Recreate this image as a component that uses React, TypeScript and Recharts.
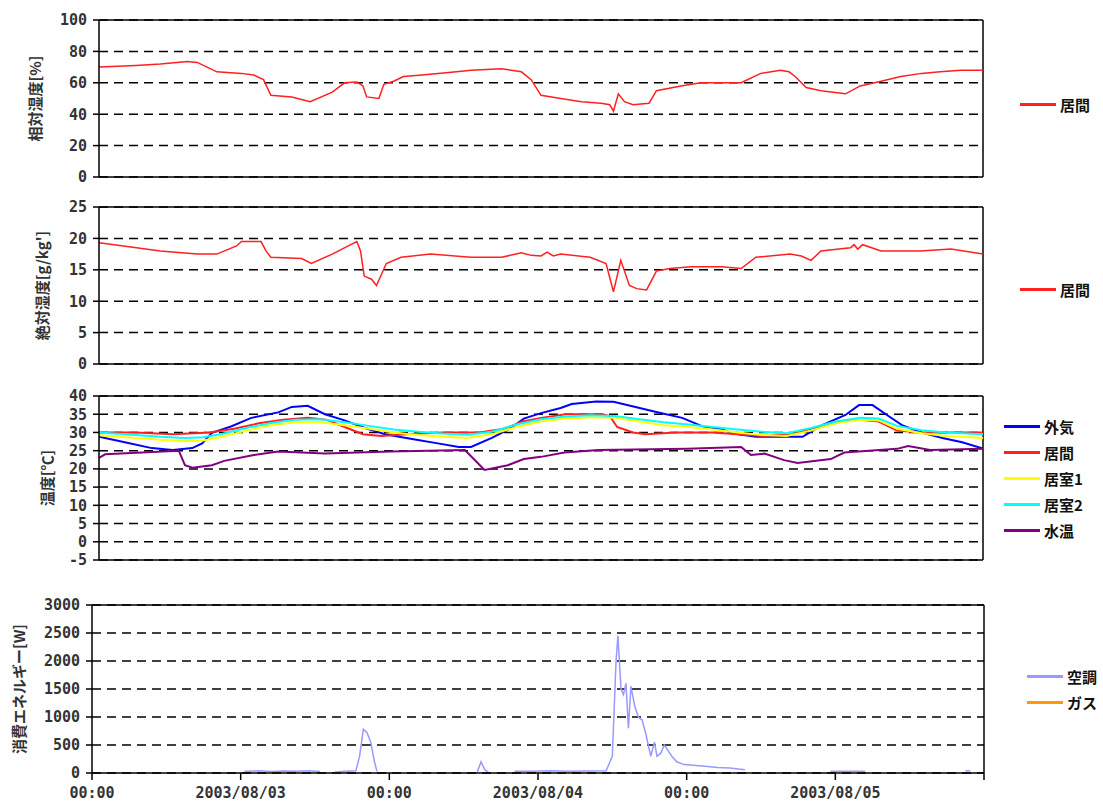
import React from "react"
import {
  LineChart,
  Line,
  XAxis,
  YAxis,
  CartesianGrid,
  ReferenceLine,
  Label,
} from "recharts"

// time in hours from the first 00:00, value
const rhLiving: Array<[number, number]> = [
  [0, 70], [3, 71], [5, 72], [7.2, 73.5], [8, 73], [8.8, 70], [9.6, 67], [11.6, 66],
  [12.6, 65], [13.4, 62], [14, 52], [15.7, 51], [17.2, 48], [19, 54], [20, 60], [21, 60.5],
  [21.5, 58], [21.8, 51], [22.8, 50], [23.2, 59], [24, 61], [24.8, 64], [26.3, 65],
  [28.5, 66.5], [30.3, 68], [32.8, 69], [34.4, 67], [35.2, 62], [36, 52], [37.6, 50],
  [39.3, 48], [40.9, 47], [41.6, 46], [41.9, 42], [42.3, 53], [42.8, 48], [43.5, 46],
  [44.8, 47], [45.4, 55], [47.4, 58], [49, 60], [52.3, 60], [53.9, 66], [55.5, 68],
  [56.2, 67], [56.7, 64], [57.6, 57], [58.8, 55], [60.8, 53], [62, 58], [63.7, 61],
  [65.3, 64], [67, 66], [68.5, 67], [70.2, 68], [72, 68],
]

const ahLiving: Array<[number, number]> = [
  [0, 19.3], [2, 18.8], [5, 18], [8, 17.5], [9.6, 17.5], [11.2, 18.8], [11.6, 19.5],
  [13.2, 19.5], [13.6, 18], [14, 17], [16.5, 16.8], [17.3, 16], [19, 17.5], [20.5, 19],
  [21, 19.5], [21.3, 18], [21.6, 14], [22.2, 13.5], [22.6, 12.5], [23.4, 16], [24.6, 17],
  [27, 17.5], [30.3, 17], [32.8, 17], [34.4, 17.7], [35.2, 17.3], [36, 17.2], [36.5, 17.8],
  [37, 17.2], [37.6, 17.5], [40, 17], [41.3, 16], [41.9, 11.5], [42.5, 16.5], [43.2, 12.5],
  [43.8, 12], [44.6, 11.8], [45.4, 14.8], [46.5, 15.2], [48.2, 15.5], [50.7, 15.5],
  [52.3, 15.2], [53.5, 17], [56.3, 17.5], [57.2, 17.2], [58, 16.5], [58.8, 18], [61.2, 18.5],
  [61.5, 19], [61.8, 18.3], [62.2, 19], [63.7, 18], [66.9, 18], [69.4, 18.3], [72, 17.5],
]

const tOutdoor: Array<[number, number]> = [
  [0, 28.8], [2.1, 27.3], [4.3, 25.7], [6, 25.2], [7.6, 25.7], [8.4, 27], [9.2, 29.9],
  [10.8, 31.7], [12.4, 34], [14.6, 35.5], [15.7, 37], [17, 37.3], [18.4, 35], [20, 33.3],
  [21.6, 31.3], [23.3, 29.5], [25.5, 28.2], [27.6, 27], [29.3, 26], [30.3, 26], [32, 28.5],
  [33.6, 31.3], [34.6, 33.8], [36, 35.3], [37.6, 36.7], [38.5, 37.8], [40.5, 38.5],
  [41.9, 38.4], [43.7, 37], [45.3, 35.7], [47.5, 34], [49.2, 31.6], [50.8, 30.8],
  [51.5, 29.8], [53.5, 28.8], [57.3, 28.8], [58.9, 32], [60.8, 34.8], [61.9, 37.5],
  [63, 37.5], [64.3, 34.5], [65.4, 32], [67, 30], [68.7, 28.5], [70.3, 27.3], [72, 25.6],
]

const tLiving: Array<[number, number]> = [
  [0, 30], [3, 30], [6, 29.5], [9, 30], [11, 31], [13, 32.5], [15, 33.5], [17, 34],
  [18.5, 33.5], [20, 31.5], [21.5, 29.5], [23, 29], [25, 29.5], [28, 30], [31, 30], [33, 31],
  [34.5, 33], [36, 34], [38, 35], [41, 35], [41.6, 34.5], [42.2, 31.5], [43.5, 30],
  [44.5, 29.5], [47, 30], [50, 30], [52, 29.5], [54, 29], [56.5, 29.5], [58.5, 31.5],
  [60.5, 33], [62, 33.5], [63.5, 33], [65, 30.5], [67, 30], [72, 30],
]

const tRoom1: Array<[number, number]> = [
  [0, 29.2], [3, 28.5], [5, 28], [7, 27.6], [8.5, 27.8], [10, 28.8], [12, 30.5], [14, 32],
  [16, 32.8], [18, 32.8], [20, 32], [22, 31], [24, 30], [26, 29.3], [28, 28.8], [30, 28.5],
  [32, 29.5], [34, 31.5], [36, 33], [38, 33.8], [40, 34.2], [42, 34], [44, 33], [46, 32],
  [48, 31.5], [50, 30.8], [52, 30], [54, 29.3], [56, 29], [58, 30.5], [60, 32.5], [62, 33.5],
  [63.5, 33.3], [65, 31], [67, 29.8], [69, 29], [72, 28.5],
]

const tRoom2: Array<[number, number]> = [
  [0, 30], [3, 29.3], [5, 28.8], [7, 28.5], [8.5, 28.7], [10, 29.6], [12, 31.2], [14, 32.6],
  [16, 33.5], [18, 33.6], [20, 32.8], [22, 31.8], [24, 30.8], [26, 30.2], [28, 29.7],
  [30, 29.4], [32, 30.2], [34, 32.2], [36, 33.6], [38, 34.4], [40, 34.7], [42, 34.5],
  [44, 33.6], [46, 32.8], [48, 32.2], [50, 31.5], [52, 30.8], [54, 30.2], [56, 29.8],
  [58, 31.2], [60, 33], [62, 34], [63.5, 33.8], [65, 31.8], [67, 30.6], [69, 30], [72, 29.5],
]

const tWater: Array<[number, number]> = [
  [0, 23], [0.5, 24], [6.5, 25], [7, 21], [7.6, 20.3], [9.2, 21], [10.2, 22.2], [12.4, 23.7],
  [14.6, 24.8], [18.4, 24.2], [23.8, 24.8], [29.8, 25.2], [31.4, 19.7], [33.3, 21],
  [34.6, 22.7], [36, 23.3], [37.9, 24.5], [40.7, 25.2], [47.9, 25.5], [52.3, 26], [53.1, 23.8],
  [54.2, 24.2], [55.8, 22.4], [56.9, 21.6], [59.6, 22.7], [60.7, 24.5], [65, 25.5],
  [65.9, 26.3], [67.7, 25.2], [72, 25.5],
]

// null = no record
const energyAC: Array<[number, number | null]> = [
  [12.3, 30], [13.5, 40], [14.5, 25], [15.5, 35], [16.5, 30], [17.5, 40], [18.4, 25], [18.9, null],
  [19.6, 20], [20.5, 30], [21.3, 40], [21.6, 300], [21.9, 780], [22.2, 720], [22.5, 550],
  [22.8, 200], [23.0, 30], [23.3, null],
  [31.1, 20], [31.4, 200], [31.7, 60], [32.0, 10], [32.3, null],
  [34.1, 30], [35.5, 30], [37, 40], [38.5, 30], [40, 35], [41.5, 40], [42.0, 300], [42.3, 2000],
  [42.45, 2450], [42.7, 1500], [42.9, 1400], [43.1, 1600], [43.3, 800], [43.5, 1550],
  [43.8, 1200], [44.1, 1000], [44.4, 950], [44.7, 700], [44.9, 500], [45.1, 300], [45.4, 550],
  [45.6, 300], [45.9, 350], [46.2, 500], [46.5, 400], [46.8, 300], [47.2, 200], [47.8, 150],
  [48.5, 140], [49.5, 120], [50.5, 100], [51.5, 90], [52.7, 60], [53, null],
  [59.6, 30], [61, 30], [62.4, 30], [62.8, null],
  [70.5, 40], [70.9, 40],
]

const xTicks = [0, 12, 24, 36, 48, 60, 72]
const xTickLabels = ["00:00", "2003/08/03", "00:00", "2003/08/04", "00:00", "2003/08/05", ""]
const rhTicks = [0, 20, 40, 60, 80, 100]
const ahTicks = [0, 5, 10, 15, 20, 25]
const tempTicks = [-5, 0, 5, 10, 15, 20, 25, 30, 35, 40]
const energyTicks = [0, 500, 1000, 1500, 2000, 2500, 3000]

const toPts = (arr: Array<[number, number | null]>) => arr.map(([t, v]) => ({ t, v }))

const tickFont = { fontSize: 15, fill: "#333", fontFamily: "DejaVu Sans Mono", fontWeight: 700 }
const jpFont = "'Noto Sans CJK JP', sans-serif"

interface SeriesDef {
  name: string
  color: string
  width: number
  points: Array<[number, number | null]>
}

interface PanelProps {
  top: number
  height: number
  marginTop: number
  marginBottom: number
  axisWidth: number
  marginRight: number
  yTicks: number[]
  title: string
  titleDx: number
  series: SeriesDef[]
  showX?: boolean
}

function Panel({ top, height, marginTop, marginBottom, axisWidth, marginRight, yTicks, title, titleDx, series, showX }: PanelProps) {
  const yMin = yTicks[0]
  const yMax = yTicks[yTicks.length - 1]
  return (
    <div style={{ position: "absolute", left: 0, top }}>
      <LineChart width={1103} height={height} margin={{ top: marginTop, right: marginRight, left: 0, bottom: marginBottom }}>
        <CartesianGrid vertical={false} stroke="#000" strokeWidth={1.5} strokeDasharray="9 6" />
        <XAxis
          type="number"
          dataKey="t"
          domain={[0, 72]}
          ticks={xTicks}
          allowDataOverflow
          axisLine={{ stroke: "#000", strokeWidth: 1.5 }}
          tick={showX ? tickFont : false}
          tickLine={showX ? { stroke: "#000", strokeWidth: 1.5 } : false}
          tickSize={7}
          tickMargin={7}
          tickFormatter={(v: number) => xTickLabels[xTicks.indexOf(v)] ?? ""}
          height={showX ? 30 : 1}
          interval={0}
        />
        <YAxis
          type="number"
          domain={[yMin, yMax]}
          ticks={yTicks}
          width={axisWidth}
          interval={0}
          axisLine={{ stroke: "#000", strokeWidth: 1.5 }}
          tickLine={{ stroke: "#000", strokeWidth: 1.5 }}
          tickSize={6}
          tickMargin={6}
          tick={tickFont}
        >
          <Label
            value={title}
            angle={-90}
            position="center"
            dx={titleDx}
            style={{ fontSize: 15, fontFamily: jpFont, fontWeight: 700, fill: "#333" }}
          />
        </YAxis>
        <ReferenceLine y={yMax} stroke="#000" strokeWidth={1.5} />
        <ReferenceLine x={72} stroke="#000" strokeWidth={1.5} />
        {series.map(s => (
          <Line
            key={s.name}
            data={toPts(s.points)}
            dataKey="v"
            name={s.name}
            type="linear"
            stroke={s.color}
            strokeWidth={s.width}
            dot={false}
            activeDot={false}
            connectNulls={false}
            isAnimationActive={false}
          />
        ))}
      </LineChart>
    </div>
  )
}

function LegendBox({ left, top, items, gap }: { left: number; top: number; gap: number; items: Array<{ name: string; color: string }> }) {
  return (
    <div style={{ position: "absolute", left, top, fontFamily: jpFont, fontSize: 15, fontWeight: 700, color: "#111" }}>
      {items.map(it => (
        <div key={it.name} style={{ display: "flex", alignItems: "center", height: gap }}>
          <div style={{ width: 36, height: 3, background: it.color, marginRight: 4 }} />
          <span>{it.name}</span>
        </div>
      ))}
    </div>
  )
}

export default function App() {
  return (
    <div style={{ position: "absolute", left: 0, top: 0, width: 1103, height: 806, background: "#fff", overflow: "hidden" }}>
      <Panel
        top={0} height={190} marginTop={20} marginBottom={12} axisWidth={99} marginRight={120}
        yTicks={rhTicks} title="相対湿度[%]" titleDx={-14}
        series={[{ name: "居間", color: "#ff2020", width: 1.5, points: rhLiving }]}
      />
      <Panel
        top={190} height={187} marginTop={17} marginBottom={12} axisWidth={99} marginRight={120}
        yTicks={ahTicks} title="絶対湿度[g/kg']" titleDx={-7}
        series={[{ name: "居間", color: "#ff2020", width: 1.5, points: ahLiving }]}
      />
      <Panel
        top={380} height={193} marginTop={16} marginBottom={12} axisWidth={99} marginRight={120}
        yTicks={tempTicks} title="温度[℃]" titleDx={-2}
        series={[
          { name: "外気", color: "#0000ff", width: 2, points: tOutdoor },
          { name: "居間", color: "#ff2020", width: 2, points: tLiving },
          { name: "居室1", color: "#ffff00", width: 2, points: tRoom1 },
          { name: "居室2", color: "#00ffff", width: 2, points: tRoom2 },
          { name: "水温", color: "#800080", width: 2, points: tWater },
        ]}
      />
      <Panel
        top={590} height={213} marginTop={15} marginBottom={0} axisWidth={92} marginRight={119}
        yTicks={energyTicks} title="消費エネルギー[W]" titleDx={-26}
        series={[{ name: "空調", color: "#9999ff", width: 1.5, points: energyAC }]}
        showX
      />
      <LegendBox left={1020} top={91} gap={26} items={[{ name: "居間", color: "#ff2020" }]} />
      <LegendBox left={1020} top={276} gap={26} items={[{ name: "居間", color: "#ff2020" }]} />
      <LegendBox
        left={1004}
        top={413}
        gap={26}
        items={[
          { name: "外気", color: "#0000ff" },
          { name: "居間", color: "#ff2020" },
          { name: "居室1", color: "#ffff00" },
          { name: "居室2", color: "#00ffff" },
          { name: "水温", color: "#800080" },
        ]}
      />
      <LegendBox
        left={1027}
        top={663}
        gap={26}
        items={[
          { name: "空調", color: "#9999ff" },
          { name: "ガス", color: "#ff9900" },
        ]}
      />
    </div>
  )
}
